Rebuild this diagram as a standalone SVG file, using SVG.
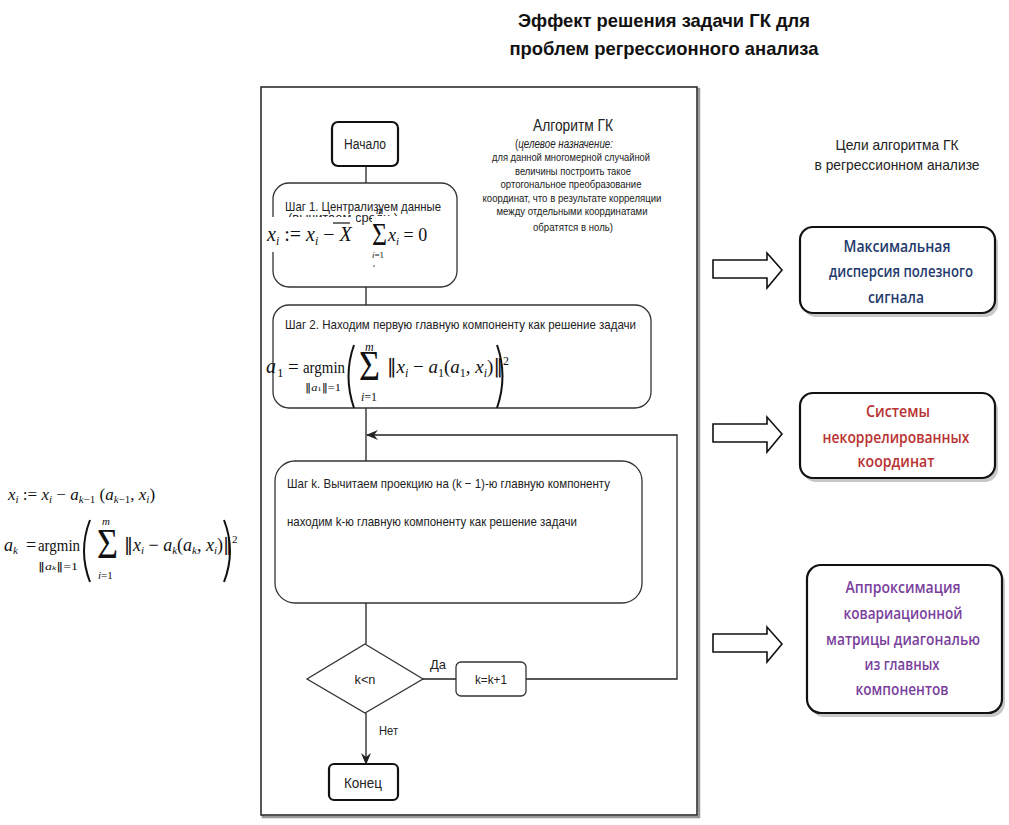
<svg xmlns="http://www.w3.org/2000/svg" width="1009" height="825" viewBox="0 0 1009 825">
<style>
  .t{font-family:"Liberation Sans",Arial,sans-serif;fill:#222}
  .tb{font-family:"Liberation Sans",Arial,sans-serif;font-weight:bold;fill:#111}
  .m{font-family:"Liberation Serif","DejaVu Serif",serif;fill:#111}
  .mi{font-style:italic}
  .nm{font-family:"DejaVu Sans",sans-serif;font-style:normal;font-weight:normal;fill:#111}
  .ln{fill:none;stroke:#222;stroke-width:1.3}
  .box{fill:#fff;stroke:#333;stroke-width:1.3}
  .term{fill:#fff;stroke:#111;stroke-width:2.2}
  .goal{fill:#fff;stroke:#111;stroke-width:2.2}
  .gsh{fill:#9a9a9a;opacity:0.55}
  .g{font-family:"Open Sans","Liberation Sans",sans-serif;font-size:15.5px;font-weight:600;text-anchor:middle}
  .bar{fill:#fff;stroke:#111;stroke-width:1.6;stroke-linejoin:miter}
</style>
<defs>
  <marker id="ah" viewBox="0 0 12 10" refX="11" refY="5" markerWidth="12" markerHeight="10" markerUnits="userSpaceOnUse" orient="auto">
    <path d="M0,0 L12,5 L0,10 L4,5 Z" fill="#222"/>
  </marker>
</defs>
<rect width="1009" height="825" fill="#fff"/>

<!-- title -->
<g id="title">
  <text class="tb" x="664" y="27" font-size="19" text-anchor="middle" textLength="292" lengthAdjust="spacingAndGlyphs">Эффект решения задачи ГК для</text>
  <text class="tb" x="664" y="55" font-size="19" text-anchor="middle" textLength="309" lengthAdjust="spacingAndGlyphs">проблем регрессионного анализа</text>
</g>

<!-- main frame -->
<g id="frame">
  <rect x="263" y="89" width="436" height="728" fill="none" stroke="#999" stroke-width="2.5"/>
  <rect x="261" y="87" width="436" height="728" fill="#fff" stroke="#222" stroke-width="1.5"/>
</g>

<!-- algorithm description -->
<g id="algo-desc">
  <text class="t" x="573" y="131" font-size="16" text-anchor="middle" textLength="80" lengthAdjust="spacingAndGlyphs">Алгоритм ГК</text>
  <text class="t" x="564" y="148" font-size="12.5" text-anchor="middle" textLength="98" lengthAdjust="spacingAndGlyphs">(<tspan font-style="italic">целевое  назначение:</tspan></text>
  <text class="t" x="571" y="161" font-size="11" text-anchor="middle" textLength="158" lengthAdjust="spacingAndGlyphs">для данной многомерной случайной</text>
  <text class="t" x="573" y="175" font-size="11" text-anchor="middle" textLength="116" lengthAdjust="spacingAndGlyphs">величины построить такое</text>
  <text class="t" x="571" y="188" font-size="11" text-anchor="middle" textLength="141" lengthAdjust="spacingAndGlyphs">ортогональное преобразование</text>
  <text class="t" x="572" y="202" font-size="11" text-anchor="middle" textLength="179" lengthAdjust="spacingAndGlyphs">координат, что в результате корреляции</text>
  <text class="t" x="572" y="215" font-size="11" text-anchor="middle" textLength="151" lengthAdjust="spacingAndGlyphs">между отдельными координатами</text>
  <text class="t" x="573" y="231" font-size="11" text-anchor="middle" textLength="80" lengthAdjust="spacingAndGlyphs">обратятся в ноль)</text>
</g>

<!-- connectors -->
<g id="connectors">
  <path class="ln" d="M366,166 V183"/>
  <path class="ln" d="M366,287 V305"/>
  <path class="ln" d="M366,408 V461"/>
  <path class="ln" d="M366,603 V644"/>
  <path class="ln" d="M423,679 H456"/>
  <path class="ln" d="M526,679 H677 V435 H367" marker-end="url(#ah)"/>
  <path class="ln" d="M366,713 V764" marker-end="url(#ah)"/>
  <text class="t" x="430" y="669" font-size="13" textLength="16" lengthAdjust="spacingAndGlyphs">Да</text>
  <text class="t" x="379" y="735" font-size="13" textLength="19" lengthAdjust="spacingAndGlyphs">Нет</text>
</g>

<!-- start -->
<g id="start">
  <rect class="term" x="332" y="122" width="66" height="44" rx="6"/>
  <text class="t" x="365" y="149" font-size="14" text-anchor="middle" textLength="42" lengthAdjust="spacingAndGlyphs">Начало</text>
</g>

<!-- step 1 -->
<g id="step1">
  <rect class="box" x="273" y="183" width="184" height="104" rx="16"/>
  <text class="t" x="285" y="211" font-size="13.5" textLength="156" lengthAdjust="spacingAndGlyphs">Шаг 1. Централизуем данные</text>
  <text class="t" x="288" y="222" font-size="13.5" textLength="110" lengthAdjust="spacingAndGlyphs">(вычитаем средн )</text>
  <rect x="266" y="217" width="90" height="35" fill="#fff"/>
  <rect x="372" y="216" width="56" height="47" fill="#fff"/>
  <text class="m" x="267" y="241" font-size="20"><tspan class="mi">x</tspan><tspan class="mi" font-size="12" dy="4">i</tspan><tspan dy="-4"> := </tspan><tspan class="mi">x</tspan><tspan class="mi" font-size="12" dy="4">i</tspan><tspan dy="-4"> − </tspan><tspan class="mi">X</tspan></text>
  <path d="M333,223 H350" stroke="#111" stroke-width="1.2"/>
  <text class="m" x="372" y="245" font-size="32" textLength="15" lengthAdjust="spacingAndGlyphs">Σ</text>
  <text class="m mi" x="376" y="214" font-size="10">m</text>
  <text class="m" x="372" y="258" font-size="9"><tspan class="mi">i</tspan>=1</text>
  <text class="m" x="388" y="241" font-size="18"><tspan class="mi">x</tspan><tspan class="mi" font-size="11" dy="4">i</tspan><tspan dy="-4"> = 0</tspan></text>
  <circle cx="374" cy="266" r="0.8" fill="#333"/>
</g>

<!-- step 2 -->
<g id="step2">
  <rect class="box" x="273" y="305" width="378" height="103" rx="16"/>
  <text class="t" x="285" y="329" font-size="13.5" textLength="351" lengthAdjust="spacingAndGlyphs">Шаг 2. Находим первую главную компоненту как решение задачи</text>
  <text class="m mi" x="266" y="373" font-size="20">a</text>
  <text class="m" x="277" y="377" font-size="13">1</text>
  <text class="m" x="288" y="373" font-size="19">=</text>
  <text class="m" x="303" y="373" font-size="17" textLength="42" lengthAdjust="spacingAndGlyphs">argmin</text>
  <text class="m" x="305" y="391" font-size="10" textLength="36" lengthAdjust="spacingAndGlyphs"><tspan class="nm">‖</tspan><tspan class="mi">a</tspan><tspan font-size="7">1</tspan><tspan class="nm">‖</tspan>=1</text>
  <path d="M354,345 Q343,376 354,408" fill="none" stroke="#111" stroke-width="2"/>
  <text class="m" x="359" y="380" font-size="42" textLength="21" lengthAdjust="spacingAndGlyphs">Σ</text>
  <text class="m mi" x="365" y="351" font-size="12">m</text>
  <text class="m" x="361" y="401" font-size="12"><tspan class="mi">i</tspan>=1</text>
  <text class="m" x="387" y="373" font-size="19"><tspan class="nm">‖</tspan><tspan class="mi">x</tspan><tspan class="mi" font-size="12" dy="4">i</tspan><tspan dy="-4"> − </tspan><tspan class="mi">a</tspan><tspan font-size="12" dy="4">1</tspan><tspan dy="-4">(</tspan><tspan class="mi">a</tspan><tspan font-size="12" dy="4">1</tspan><tspan dy="-4">, </tspan><tspan class="mi">x</tspan><tspan class="mi" font-size="12" dy="4">i</tspan><tspan dy="-4">)</tspan><tspan class="nm">‖</tspan><tspan font-size="12" dy="-8">2</tspan></text>
  <path d="M497,345 Q508,376 497,408" fill="none" stroke="#111" stroke-width="2"/>
</g>

<!-- step k -->
<g id="stepk">
  <rect class="box" x="275" y="461" width="367" height="142" rx="20"/>
  <text class="t" x="287" y="488" font-size="13.5" textLength="323" lengthAdjust="spacingAndGlyphs">Шаг k. Вычитаем проекцию на (k − 1)-ю главную компоненту</text>
  <text class="t" x="287" y="526" font-size="13.5" textLength="290" lengthAdjust="spacingAndGlyphs">находим k-ю главную компоненту как решение задачи</text>
</g>

<!-- decision -->
<g id="decision">
  <path d="M365,644 L423,679 L365,713 L307,679 Z" fill="#fff" stroke="#333" stroke-width="1.3"/>
  <text class="t" x="365" y="684" font-size="13.5" text-anchor="middle" textLength="21" lengthAdjust="spacingAndGlyphs">k&lt;n</text>
</g>

<!-- increment -->
<g id="inc">
  <rect class="box" x="456" y="662" width="70" height="34" rx="5"/>
  <text class="t" x="491" y="684" font-size="13.5" text-anchor="middle" textLength="32" lengthAdjust="spacingAndGlyphs">k=k+1</text>
</g>

<!-- end -->
<g id="end">
  <rect class="term" x="329" y="764" width="69" height="36" rx="5"/>
  <text class="t" x="363" y="788" font-size="14" text-anchor="middle" textLength="38" lengthAdjust="spacingAndGlyphs">Конец</text>
</g>

<!-- left formulas -->
<g id="left-formulas">
  <text class="m" x="8" y="500" font-size="17"><tspan class="mi">x</tspan><tspan class="mi" font-size="11" dy="3">i</tspan><tspan dy="-3"> := </tspan><tspan class="mi">x</tspan><tspan class="mi" font-size="11" dy="3">i</tspan><tspan dy="-3"> − </tspan><tspan class="mi">a</tspan><tspan font-size="11" dy="3" class="mi">k</tspan><tspan font-size="11">−1</tspan><tspan dy="-3"> (</tspan><tspan class="mi">a</tspan><tspan font-size="11" dy="3" class="mi">k</tspan><tspan font-size="11">−1</tspan><tspan dy="-3">, </tspan><tspan class="mi">x</tspan><tspan class="mi" font-size="11" dy="3">i</tspan><tspan dy="-3">)</tspan></text>
  <text class="m" x="4" y="551" font-size="18"><tspan class="mi">a</tspan><tspan font-size="11" dy="3" class="mi">k</tspan></text>
  <text class="m" x="26" y="551" font-size="18">=</text>
  <text class="m" x="38" y="551" font-size="16" textLength="42" lengthAdjust="spacingAndGlyphs">argmin</text>
  <text class="m" x="38" y="570" font-size="10" textLength="40" lengthAdjust="spacingAndGlyphs"><tspan class="nm">‖</tspan><tspan class="mi">a</tspan><tspan font-size="7" class="mi">k</tspan><tspan class="nm">‖</tspan>=1</text>
  <path d="M90,520 Q78,551 90,582" fill="none" stroke="#111" stroke-width="2"/>
  <text class="m" x="97" y="558" font-size="42" textLength="21" lengthAdjust="spacingAndGlyphs">Σ</text>
  <text class="m mi" x="102" y="525" font-size="11">m</text>
  <text class="m" x="98" y="579" font-size="11"><tspan class="mi">i</tspan>=1</text>
  <text class="m" x="124" y="551" font-size="18"><tspan class="nm">‖</tspan><tspan class="mi">x</tspan><tspan class="mi" font-size="11" dy="3">i</tspan><tspan dy="-3"> − </tspan><tspan class="mi">a</tspan><tspan font-size="11" dy="3" class="mi">k</tspan><tspan dy="-3">(</tspan><tspan class="mi">a</tspan><tspan font-size="11" dy="3" class="mi">k</tspan><tspan dy="-3">, </tspan><tspan class="mi">x</tspan><tspan class="mi" font-size="11" dy="3">i</tspan><tspan dy="-3">)</tspan><tspan class="nm">‖</tspan><tspan font-size="11" dy="-8">2</tspan></text>
  <path d="M224,520 Q236,551 224,582" fill="none" stroke="#111" stroke-width="2"/>
</g>

<!-- goals header -->
<g id="goals-header">
  <text class="t" x="897" y="150" font-size="14.5" text-anchor="middle" textLength="123" lengthAdjust="spacingAndGlyphs">Цели алгоритма ГК</text>
  <text class="t" x="897" y="170" font-size="14.5" text-anchor="middle" textLength="165" lengthAdjust="spacingAndGlyphs">в регрессионном анализе</text>
</g>

<!-- block arrows -->
<g id="arrows">
  <path class="bar" d="M713,260 H767 V253 L782,270 L767,288 V278 H713 Z"/>
  <path class="bar" d="M713,424 H767 V417 L782,434 L767,452 V442 H713 Z"/>
  <path class="bar" d="M713,634 H767 V627 L782,644 L767,662 V652 H713 Z"/>
</g>

<!-- goal 1 -->
<g id="goal1">
  <rect class="gsh" x="803" y="231" width="195" height="86" rx="13"/>
  <rect class="goal" x="800" y="227" width="195" height="86" rx="13"/>
  <text class="g" x="897" y="252" fill="#1f3a6e" textLength="107" lengthAdjust="spacingAndGlyphs">Максимальная</text>
  <text class="g" x="901" y="277" fill="#1f3a6e" textLength="144" lengthAdjust="spacingAndGlyphs">дисперсия полезного</text>
  <text class="g" x="896" y="303" fill="#1f3a6e" textLength="56" lengthAdjust="spacingAndGlyphs">сигнала</text>
</g>

<!-- goal 2 -->
<g id="goal2">
  <rect class="gsh" x="803" y="397" width="195" height="85" rx="13"/>
  <rect class="goal" x="800" y="393" width="195" height="85" rx="13"/>
  <text class="g" x="898" y="417" fill="#b93232" textLength="64" lengthAdjust="spacingAndGlyphs">Системы</text>
  <text class="g" x="896" y="443" fill="#b93232" textLength="147" lengthAdjust="spacingAndGlyphs">некоррелированных</text>
  <text class="g" x="896" y="467" fill="#b93232" textLength="77" lengthAdjust="spacingAndGlyphs">координат</text>
</g>

<!-- goal 3 -->
<g id="goal3">
  <rect class="gsh" x="810" y="569" width="195" height="148" rx="14"/>
  <rect class="goal" x="807" y="565" width="195" height="148" rx="14"/>
  <text class="g" x="903" y="593" fill="#7a3f9d" textLength="115" lengthAdjust="spacingAndGlyphs">Аппроксимация</text>
  <text class="g" x="903" y="619" fill="#7a3f9d" textLength="119" lengthAdjust="spacingAndGlyphs">ковариационной</text>
  <text class="g" x="903" y="645" fill="#7a3f9d" textLength="154" lengthAdjust="spacingAndGlyphs">матрицы диагональю</text>
  <text class="g" x="902" y="670" fill="#7a3f9d" textLength="75" lengthAdjust="spacingAndGlyphs">из главных</text>
  <text class="g" x="902" y="695" fill="#7a3f9d" textLength="93" lengthAdjust="spacingAndGlyphs">компонентов</text>
</g>
</svg>
